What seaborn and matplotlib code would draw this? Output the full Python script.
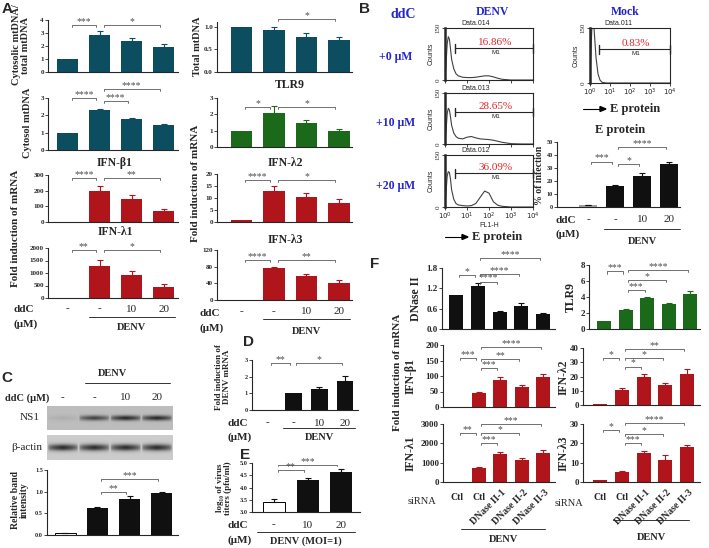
import numpy as np
import pandas as pd
import seaborn as sns
import matplotlib.pyplot as plt
from matplotlib.transforms import offset_copy

# ---------------- data ----------------
ddc_labels = ['-', '-', '10', '20']
ddc_labels_e = ['-', '10', '20']
sirna_labels = ['Ctl', 'Ctl', 'DNase II-1', 'DNase II-2', 'DNase II-3']

# A
cyto_ratio = [1.0, 2.85, 2.4, 1.9]
cyto_ratio_err = [0, 0.28, 0.22, 0.25]
total_mt = [1.0, 0.93, 0.77, 0.70]
total_mt_err = [0, 0.05, 0.08, 0.07]
cytosol_mt = [1.0, 2.33, 1.78, 1.45]
cytosol_mt_err = [0, 0.05, 0.04, 0.03]
tlr9_a = [1.0, 2.1, 1.45, 0.95]
tlr9_a_err = [0, 0.4, 0.2, 0.15]
ifnb1_a = [1, 195, 148, 72]
ifnb1_a_err = [0, 32, 22, 12]
ifnl2_a = [0.8, 13, 10.5, 8]
ifnl2_a_err = [0, 1.8, 1.5, 1.4]
ifnl1_a = [1, 1280, 920, 450]
ifnl1_a_err = [0, 260, 150, 130]
ifnl3_a = [1, 76, 57, 41]
ifnl3_a_err = [0, 3, 5, 8]

# B flow cytometry (log10 FL1-H vs counts)
flow_log = [0.0, 0.05, 0.1, 0.15, 0.2, 0.25, 0.3, 0.4, 0.5, 0.6, 0.8, 1.0,
            1.2, 1.4, 1.6, 1.8, 2.0, 2.2, 2.4, 2.6, 2.8, 3.0, 3.5, 4.0]
hist_0um = [5, 50, 105, 125, 118, 90, 60, 32, 18, 12, 8, 7, 7, 8, 10, 12, 12, 9, 5, 2, 1, 0, 0, 0]
hist_10um = [5, 40, 90, 105, 100, 80, 55, 32, 22, 17, 15, 20, 22, 18, 15, 14, 13, 11, 8, 5, 3, 1, 0, 0]
hist_20um = [5, 45, 90, 102, 100, 80, 50, 22, 10, 6, 4, 3, 4, 10, 28, 46, 40, 15, 5, 2, 1, 0, 0, 0]
hist_mock = [20, 90, 160, 170, 150, 110, 70, 25, 8, 2, 0, 0, 0, 0, 0, 0, 0, 0, 0, 0, 0, 0, 0, 0]
flow_pct = ['16.86%', '28.65%', '36.09%', '0.83%']
flow_gate = [92, 94, 98, 92]
infection = [1.5, 16, 24, 33]
infection_err = [0.3, 0.8, 2.5, 2.0]

# C
ns1_band = [0.08, 0.7, 0.85, 0.85]
actin_band = [0.9, 0.9, 0.9, 0.9]
band_rel = [0.04, 0.62, 0.84, 0.97]
band_rel_err = [0.01, 0.02, 0.05, 0.03]

# D, E
denv_mrna = [0, 1.0, 1.27, 1.72]
denv_mrna_err = [0, 0, 0.13, 0.3]
titers = [3.4, 4.3, 4.62]
titers_err = [0.15, 0.08, 0.12]

# F
dnase2_f = [1.0, 1.27, 0.49, 0.68, 0.44]
dnase2_f_err = [0, 0.08, 0.04, 0.08, 0.03]
tlr9_f = [1.0, 2.35, 3.85, 3.1, 4.4]
tlr9_f_err = [0, 0.2, 0.2, 0.1, 0.3]
ifnb1_f = [0, 45, 87, 65, 98]
ifnb1_f_err = [0, 3, 9, 6, 8]
ifnl2_f = [0.8, 10.5, 19.5, 14, 22]
ifnl2_f_err = [0, 1.3, 2.5, 1.5, 3]
ifnl1_f = [0, 700, 1450, 1150, 1500]
ifnl1_f_err = [0, 70, 110, 80, 180]
ifnl3_f = [0.8, 5, 15, 11.5, 18.3]
ifnl3_f_err = [0, 0.8, 1, 2.5, 0.8]

# ---------------- style ----------------
sns.set_style('ticks')
SERIF = ['Liberation Serif', 'DejaVu Serif']
SANS = ['Liberation Sans', 'DejaVu Sans']
plt.rcParams['font.family'] = SERIF
plt.rcParams['mathtext.fontset'] = 'dejavusans'

TEAL = '#0c4d60'
GREEN = '#1a6a1a'
RED = '#b0151c'
BLACK = '#101010'
BLUE = '#2424d0'

W, H = 709, 548
fig = plt.figure(figsize=(W / 100, H / 100), dpi=100)


def box(x0, y0, x1, y1):
    return fig.add_axes([x0 / W, 1 - y1 / H, (x1 - x0) / W, (y1 - y0) / H])


def txt(x, y, s, **kw):
    kw.setdefault('ha', 'center')
    kw.setdefault('va', 'center')
    kw.setdefault('fontweight', 'bold')
    kw.setdefault('family', SERIF)
    fig.text(x / W, 1 - y / H, s, **kw)


def sig(ax, pairs):
    lo, hi = ax.get_ylim()
    h = 0.035 * (hi - lo)
    for i, j, y, s in pairs:
        x1, x2 = i + 0.12, j - 0.12
        ax.plot([x1, x1, x2, x2], [y - h, y, y, y - h], color='0.35', lw=0.6, clip_on=False)
        ax.annotate(s, xy=((x1 + x2) / 2, y), xytext=(0, -1), textcoords='offset pixels',
                    ha='center', va='bottom', fontsize=7, color='0.3', annotation_clip=False)


def bar_panel(rect, vals, errs, color, ylim, yticks, xlim, fmt='{:g}', fs=5,
              pairs=(), white=(), ecol=None, grey=()):
    ax = box(*rect)
    df = pd.DataFrame({'pos': np.arange(len(vals)), 'val': vals})
    sns.barplot(data=df, x='pos', y='val', color=color, saturation=1, width=0.65,
                errorbar=None, ax=ax, linewidth=0)
    for k in white:
        ax.patches[k].set_facecolor('white')
        ax.patches[k].set_edgecolor('k')
        ax.patches[k].set_linewidth(0.7)
    for k in grey:
        ax.patches[k].set_facecolor('#a0a0a0')
    idx = [k for k, e in enumerate(errs) if e > 0]
    if idx:
        ax.errorbar(idx, [vals[k] for k in idx],
                    yerr=[[0] * len(idx), [errs[k] for k in idx]], fmt='none',
                    ecolor=ecol or color, elinewidth=0.8, capsize=2.2, capthick=0.8)
    ax.set_xlim(*xlim)
    ax.set_ylim(*ylim)
    ax.set_yticks(yticks)
    ax.set_yticklabels([fmt.format(t) for t in yticks])
    ax.set_xticks([])
    ax.set_xlabel('')
    ax.set_ylabel('')
    for s in ['top', 'right']:
        ax.spines[s].set_visible(False)
    for s in ['left', 'bottom']:
        ax.spines[s].set_linewidth(0.8)
        ax.spines[s].set_color('0.15')
    ax.tick_params(axis='y', length=2, width=0.6, pad=1, labelsize=fs)
    for lab in ax.get_yticklabels():
        lab.set_fontweight('bold')
    ax.set_facecolor('none')
    sig(ax, pairs)
    return ax


def under(ax, labels, dy, fs=8, weight='normal', positions=None):
    positions = positions if positions is not None else range(len(labels))
    for p, lab in zip(positions, labels):
        ax.annotate(lab, xy=(p, 0), xycoords=ax.get_xaxis_transform(), xytext=(0, -dy),
                    textcoords='offset pixels', ha='center', va='center', fontsize=fs,
                    fontweight=weight, family=SERIF, annotation_clip=False)


def group(ax, i0, i1, dy_line, dy_text, label, fs=7.5):
    tr = offset_copy(ax.get_xaxis_transform(), fig=fig, x=0, y=-dy_line, units='dots')
    ax.plot([i0, i1], [0, 0], transform=tr, color='0.2', lw=0.7, clip_on=False)
    tr2 = offset_copy(ax.get_xaxis_transform(), fig=fig, x=0, y=-dy_text, units='dots')
    ax.text((i0 + i1) / 2, 0, label, transform=tr2, ha='center', va='center',
            fontsize=fs, fontweight='bold', family=SERIF)


# ---------------- panel A ----------------
xl_l, xl_r = (-0.62, 3.45), (-0.75, 3.4)
bar_panel((48, 20, 178, 72), cyto_ratio, cyto_ratio_err, TEAL, (0, 4), range(5), xl_l,
          pairs=[(0, 1, 3.6, '***'), (1, 3, 3.6, '*')])
bar_panel((217, 22, 352, 72), total_mt, total_mt_err, TEAL, (0, 1.1), [0, 0.5, 1.0], xl_r,
          fmt='{:.1f}', pairs=[(1, 3, 1.16, '*')])
bar_panel((48, 98, 178, 150), cytosol_mt, cytosol_mt_err, TEAL, (0, 3), range(4), xl_l,
          pairs=[(0, 1, 3.0, '****'), (1, 3, 3.5, '****'), (1, 2, 2.83, '****')])
bar_panel((217, 98, 352, 147), tlr9_a, tlr9_a_err, GREEN, (0, 3), range(4), xl_r,
          pairs=[(0, 1, 2.45, '*'), (1, 3, 2.45, '*')])
bar_panel((48, 175, 178, 222), ifnb1_a, ifnb1_a_err, RED, (0, 300), [0, 100, 200, 300], xl_l,
          pairs=[(0, 1, 280, '****'), (1, 3, 280, '**')])
bar_panel((217, 174, 352, 222), ifnl2_a, ifnl2_a_err, RED, (0, 20), [0, 5, 10, 15, 20], xl_r,
          pairs=[(0, 1, 17.5, '****'), (1, 3, 17.5, '*')])
a7 = bar_panel((48, 248, 178, 298), ifnl1_a, ifnl1_a_err, RED, (0, 2000),
               [0, 500, 1000, 1500, 2000], xl_l,
               pairs=[(0, 1, 1900, '**'), (1, 3, 1900, '*')])
a8 = bar_panel((217, 250, 352, 300), ifnl3_a, ifnl3_a_err, RED, (0, 120), [0, 40, 80, 120], xl_r,
               pairs=[(0, 1, 95, '****'), (1, 3, 95, '**')])

under(a7, ddc_labels, 11)
group(a7, 0.65, 3.35, 19, 29, 'DENV')
under(a8, ddc_labels, 12)
group(a8, 0.65, 3.35, 19, 32, 'DENV')
txt(13, 309, 'ddC', ha='left', fontsize=8)
txt(13, 324, '(μM)', ha='left', fontsize=8)
txt(199, 313, 'ddC', ha='left', fontsize=8)
txt(199, 328, '(μM)', ha='left', fontsize=8)

txt(290, 85, 'TLR9', fontsize=8.5)
txt(115, 163, 'IFN-β1', fontsize=8.5)
txt(285, 163, 'IFN-λ2', fontsize=8.5)
txt(115, 232, 'IFN-λ1', fontsize=8.5)
txt(285, 240, 'IFN-λ3', fontsize=8.5)
txt(21, 45, 'Cytosolic mtDNA/\ntotal mtDNA', rotation=90, fontsize=7.5, linespacing=1.0)
txt(197, 46, 'Total mtDNA', rotation=90, fontsize=7.5)
txt(28, 123, 'Cytosol mtDNA', rotation=90, fontsize=7.5)
txt(16, 228, 'Fold induction of mRNA', rotation=90, fontsize=8)
txt(196, 183, 'Fold induction of mRNA', rotation=90, fontsize=8)

# ---------------- panel B ----------------
def flow(rect, counts, title, pct, gate, xlabels=False, xlabel=None):
    ax = box(*rect)
    sns.lineplot(x=flow_log, y=counts, ax=ax, color='0.25', linewidth=0.8)
    ax.set_xlim(0, 4)
    ax.set_ylim(0, 150)
    ax.set_xticks(range(5))
    ax.set_xticklabels([f'$10^{k}$' for k in range(5)] if xlabels else [])
    ax.set_yticks([0, 150])
    ax.set_yticklabels(['0', '150'], rotation=90, va='center')
    ax.tick_params(length=2, width=0.6, pad=1, labelsize=5)
    for s in ax.spines.values():
        s.set_linewidth(0.8)
        s.set_color('0.15')
    ax.spines['left'].set_linewidth(1.8)
    ax.set_ylabel('Counts', fontsize=5, family=SANS, labelpad=1)
    if xlabel:
        ax.set_xlabel(xlabel, fontsize=5, family=SANS, labelpad=0)
    ax.text(0.35, 1.02, title, transform=ax.transAxes, ha='center', va='bottom',
            fontsize=5, family=SANS)
    ax.plot([0.45, 4], [gate, gate], color='0.15', lw=0.8)
    ax.plot([0.45, 0.45], [gate - 13, gate + 13], color='0.15', lw=1.0)
    ax.plot([4, 4], [gate - 13, gate + 13], color='0.15', lw=1.0, clip_on=False)
    ax.text(2.3, gate + 17, pct, color='#e3262e', fontsize=8, ha='center', va='center',
            family=SERIF)
    ax.text(2.3, gate - 12, 'M1', fontsize=4.5, ha='center', va='center', family=SANS)
    return ax


flow((445, 28, 533, 80), hist_0um, 'Data.014', flow_pct[0], flow_gate[0])
flow((445, 93, 533, 144), hist_10um, 'Data.013', flow_pct[1], flow_gate[1])
flow((445, 155, 533, 207), hist_20um, 'Data.012', flow_pct[2], flow_gate[2],
     xlabels=True, xlabel='FL1-H')
flow((590, 28, 670, 83), hist_mock, 'Data.011', flow_pct[3], flow_gate[3], xlabels=True)

txt(403, 15, 'ddC', fontsize=10, color=BLUE)
txt(492, 12, 'DENV', fontsize=8.5, color=BLUE)
txt(625, 12, 'Mock', fontsize=8.5, color=BLUE)
txt(396, 57, '+0 μM', fontsize=8.5, color=BLUE)
txt(396, 123, '+10 μM', fontsize=8.5, color=BLUE)
txt(396, 186, '+20 μM', fontsize=8.5, color=BLUE)
for (xa, xb, ya) in [(445, 468, 237), (583, 606, 109)]:
    fig.add_artist(plt.Line2D([xa / W, (xb - 4) / W], [1 - ya / H, 1 - ya / H], color='k', lw=0.8))
    fig.add_artist(plt.Polygon([[(xb - 6) / W, 1 - (ya - 2.5) / H], [xb / W, 1 - ya / H],
                                [(xb - 6) / W, 1 - (ya + 2.5) / H]], color='k'))
    txt(xb + 4, ya, 'E protein', ha='left', fontsize=9)

b_bar = bar_panel((557, 142, 680, 207), infection, infection_err, BLACK, (0, 50),
                  range(0, 51, 10), (-1.15, 3.4), fs=4.5, grey=(0,), ecol=BLACK,
                  pairs=[(0, 1, 35, '***'), (1, 3, 46, '****'), (1, 2, 33, '*')])
under(b_bar, ddc_labels, 13)
group(b_bar, 0.6, 3.4, 22, 34, 'DENV')
txt(555, 220, 'ddC', ha='left', fontsize=8)
txt(555, 234, '(μM)', ha='left', fontsize=8)
txt(620, 130, 'E protein', fontsize=9)
txt(539, 175, '% of infection', rotation=90, fontsize=7)

# ---------------- panel C ----------------
def blot(rect, band, bg, sigma, label, lx):
    ax = box(*rect)
    xs = np.linspace(-0.5, 3.5, 200)
    ys = np.linspace(-1, 1, 30)
    lane = np.zeros_like(xs)
    for k, v in enumerate(band):
        lane = np.maximum(lane, v * np.clip(1 - np.abs(xs - k) / 0.48, 0, 1) ** 0.3)
    prof = np.exp(-(ys / sigma) ** 2)
    img = bg - 0.7 * np.outer(prof, lane)
    ax.imshow(img, cmap='gray', vmin=0, vmax=1, aspect='auto',
              extent=(-0.5, 3.5, -1, 1), interpolation='bilinear')
    ax.set_xticks([])
    ax.set_yticks([])
    for s in ax.spines.values():
        s.set_visible(False)
    txt(lx, (rect[1] + rect[3]) / 2, label, fontweight='normal', fontsize=8)
    return ax


ns1_ax = blot((47, 406, 173, 430), ns1_band, 0.74, 0.22, 'NS1', 30)
blot((47, 435, 173, 460), actin_band, 0.80, 0.28, 'β-actin', 27)
under(ns1_ax, ddc_labels, -32, fs=8)
tr = offset_copy(ns1_ax.get_xaxis_transform(), fig=fig, x=0, y=47, units='dots')
ns1_ax.plot([0.7, 3.4], [0, 0], transform=tr, color='0.2', lw=0.7, clip_on=False)
txt(113, 374, 'DENV', fontsize=7.5)
txt(5, 398, 'ddC (μM)', ha='left', fontsize=7.5)

bar_panel((47, 470, 178, 535), band_rel, band_rel_err, BLACK, (0, 1.5), [0, 0.5, 1.0, 1.5],
          (-0.56, 3.5), fmt='{:.1f}', fs=4.5, white=(0,), ecol=BLACK,
          pairs=[(1, 2, 1.0, '**'), (1, 3, 1.3, '***')])
txt(20, 500, 'Relative band\nintensity', rotation=90, fontsize=7, linespacing=1.0)

# ---------------- panel D ----------------
d_ax = bar_panel((252, 360, 358, 410), denv_mrna, denv_mrna_err, BLACK, (0, 3), range(4),
                 (-0.6, 3.5), fs=4.5, ecol=BLACK,
                 pairs=[(0, 1, 2.8, '**'), (1, 3, 2.8, '*')])
under(d_ax, ddc_labels, 13)
group(d_ax, 0.6, 3.4, 18, 28, 'DENV')
txt(228, 423, 'ddC', ha='left', fontsize=8)
txt(228, 437, '(μM)', ha='left', fontsize=8)
txt(223, 377, 'Fold induction of\nDENV mRNA', rotation=90, fontsize=6.5, linespacing=1.0)

# ---------------- panel E ----------------
e_ax = bar_panel((252, 463, 360, 512), titers, titers_err, BLACK, (3, 5),
                 [3.0, 3.5, 4.0, 4.5, 5.0], (-0.65, 2.55), fmt='{:.1f}', fs=4.5,
                 white=(0,), ecol=BLACK,
                 pairs=[(0, 1, 4.72, '**'), (0, 2, 4.93, '***')])
under(e_ax, ddc_labels_e, 13)
group(e_ax, -0.5, 2.4, 20, 29, 'DENV (MOI=1)')
txt(228, 525, 'ddC', ha='left', fontsize=8)
txt(228, 540, '(μM)', ha='left', fontsize=8)
txt(224, 488, 'log₁₀ of virus\ntiters (pfu/ml)', rotation=90, fontsize=6.5, linespacing=1.0)

# ---------------- panel F ----------------
xf_l, xf_r = (-0.65, 4.55), (-0.8, 4.6)
bar_panel((442, 268, 555, 329), dnase2_f, dnase2_f_err, BLACK, (0, 1.8), [0, 0.6, 1.2, 1.8],
          xf_l, fmt='{:.1f}', fs=6.5,
          pairs=[(0, 1, 1.59, '*'), (1, 2, 1.4, '****'), (1, 3, 1.62, '****'), (1, 4, 2.1, '****')])
bar_panel((589, 265, 700, 329), tlr9_f, tlr9_f_err, GREEN, (0, 8), range(0, 9, 2),
          (-0.7, 4.46), fs=6.5,
          pairs=[(0, 1, 7.2, '***'), (1, 2, 4.9, '***'), (1, 3, 6.1, '*'), (1, 4, 7.4, '****')])
bar_panel((443, 345, 555, 407), ifnb1_f, ifnb1_f_err, RED, (0, 200), range(0, 201, 50),
          xf_l, fs=6.5,
          pairs=[(0, 1, 158, '***'), (1, 2, 126, '***'), (1, 3, 155, '**'), (1, 4, 193, '****')])
bar_panel((583, 348, 700, 405), ifnl2_f, ifnl2_f_err, RED, (0, 40), range(0, 41, 10),
          xf_r, fs=6.5,
          pairs=[(0, 1, 33, '*'), (1, 2, 27, '*'), (1, 3, 33, '*'), (1, 4, 39, '**')])
f5 = bar_panel((443, 424, 555, 482), ifnl1_f, ifnl1_f_err, RED, (0, 3000),
               [0, 1000, 2000, 3000], xf_l, fs=6.5,
               pairs=[(0, 1, 2550, '**'), (1, 2, 2000, '***'), (1, 3, 2550, '*'), (1, 4, 3000, '***')])
f6 = bar_panel((583, 424, 700, 482), ifnl3_f, ifnl3_f_err, RED, (0, 30), [0, 10, 20, 30],
               xf_r, fs=6.5,
               pairs=[(0, 1, 27, '*'), (1, 2, 20, '***'), (1, 3, 25, '*'), (1, 4, 30.5, '****')])

for ax, line_dy, text_dy, x0 in [(f5, 47, 58, 0.2), (f6, 38, 56, 0.6)]:
    for k, lab in enumerate(sirna_labels):
        if k < 2:
            ax.annotate(lab, xy=(k, 0), xycoords=ax.get_xaxis_transform(), xytext=(0, -15),
                        textcoords='offset pixels', ha='center', va='center', fontsize=7,
                        fontweight='bold', family=SERIF, annotation_clip=False)
        else:
            ax.annotate(lab, xy=(k + 0.2, 0), xycoords=ax.get_xaxis_transform(),
                        xytext=(0, -9), textcoords='offset pixels', ha='right', va='center',
                        rotation=45, rotation_mode='anchor', fontsize=7, fontweight='bold',
                        family=SERIF, annotation_clip=False)
    group(ax, x0, 4.1, line_dy, text_dy, 'DENV')
txt(422, 502, 'siRNA', fontweight='normal', fontsize=7.5)
txt(569, 503, 'siRNA', fontweight='normal', fontsize=7.5)

txt(416, 299, 'DNase II', rotation=90, fontsize=8.5)
txt(571, 297, 'TLR9', rotation=90, fontsize=8.5)
txt(411, 376, 'IFN-β1', rotation=90, fontsize=8.5)
txt(564, 377, 'IFN-λ2', rotation=90, fontsize=8.5)
txt(411, 453, 'IFN-λ1', rotation=90, fontsize=8.5)
txt(564, 453, 'IFN-λ3', rotation=90, fontsize=8.5)
txt(397, 372, 'Fold induction of mRNA', rotation=90, fontsize=8)

# panel letters
for lx, ly, lab in [(7, 9, 'A'), (365, 9, 'B'), (7, 378, 'C'), (248, 342, 'D'),
                    (245, 455, 'E'), (375, 264, 'F')]:
    txt(lx, ly, lab, fontsize=11, family=SANS)

fig.savefig('out.png', dpi=100)
